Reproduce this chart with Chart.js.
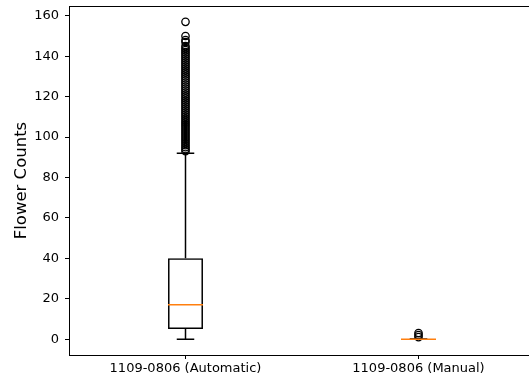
<!DOCTYPE html>
<html>
<head>
<meta charset="utf-8">
<script src="https://cdn.jsdelivr.net/npm/chart.js@4"></script>
<style>
  html, body { margin: 0; padding: 0; background: #fff; overflow: hidden; }
  #wrap { width: 536px; height: 383px; }
</style>
</head>
<body>
<div id="wrap"><canvas id="boxChart" width="536" height="383"></canvas></div>
<script>
// Box plot of flower counts, automatic vs manual, drawn with Chart.js

const categories = ["1109-0806 (Automatic)", "1109-0806 (Manual)"];
const whiskerLow = [0, 0];
const q1 = [5, 0];
const medians = [17, 0];
const q3 = [40, 0];
const whiskerHigh = [92, 0];
const outliersAuto = [93, 94, 95, 96, 97, 98, 99, 100, 101, 102, 103, 104, 105, 106, 107, 108, 109, 110,
    111, 112, 113, 114, 115, 116, 117, 118, 119, 120, 121, 122, 123, 124, 125, 126, 127, 128, 129, 130,
    131, 132, 133, 134, 135, 136, 137, 138, 139, 140, 141, 142, 143, 144, 145, 147, 148, 150, 157];
const outliersManual = [1, 2, 3];
const yTicks = [0, 20, 40, 60, 80, 100, 120, 140, 160];

const font = { family: "DejaVu Sans", size: 13 };

const outlierPoints = [outliersAuto, outliersManual]
    .flatMap((list, i) => list.map(v => ({ x: categories[i], y: v })));

const whiskerPoints = categories.flatMap((c, i) => [
    { x: c, y: q3[i] }, { x: c, y: whiskerHigh[i] }, { x: c, y: null },
    { x: c, y: q1[i] }, { x: c, y: whiskerLow[i] }, { x: c, y: null }
]);

const capPoints = categories.flatMap((c, i) => [
    { x: c, y: whiskerLow[i] }, { x: c, y: whiskerHigh[i] }
]);

// top / left / right / bottom spines like matplotlib
const frame = {
    id: "frame",
    afterDraw(chart) {
        const { ctx, chartArea: a } = chart;
        ctx.save();
        ctx.strokeStyle = "#000";
        ctx.lineWidth = 1;
        ctx.strokeRect(Math.round(a.left) + 0.5, Math.round(a.top) + 0.5,
            Math.round(a.right - a.left), Math.round(a.bottom - a.top));
        ctx.restore();
    }
};

new Chart(document.getElementById("boxChart"), {
    type: "bar",
    data: {
        labels: categories,
        datasets: [
            {
                type: "line",
                label: "median",
                data: categories.map((c, i) => ({ x: c, y: medians[i] })),
                showLine: false,
                pointStyle: "line",
                pointRadius: 17.5,
                borderColor: "#ff7f0e",
                borderWidth: 1.5,
                order: 0
            },
            {
                type: "line",
                label: "outliers",
                data: outlierPoints,
                showLine: false,
                pointStyle: "circle",
                pointRadius: 3.7,
                borderColor: "#000",
                backgroundColor: "rgba(0,0,0,0)",
                borderWidth: 1.3,
                order: 1
            },
            {
                type: "line",
                label: "caps",
                data: capPoints,
                showLine: false,
                pointStyle: "line",
                pointRadius: 8.75,
                borderColor: "#000",
                borderWidth: 1.5,
                order: 2
            },
            {
                type: "line",
                label: "whiskers",
                data: whiskerPoints,
                spanGaps: false,
                pointRadius: 0,
                borderColor: "#000",
                borderWidth: 1.5,
                order: 3
            },
            {
                label: "box",
                data: categories.map((c, i) => [q1[i], q3[i]]),
                backgroundColor: "rgba(255,255,255,0)",
                borderColor: "#000",
                borderWidth: 1.5,
                borderSkipped: false,
                barPercentage: 0.15,
                categoryPercentage: 1,
                order: 4
            }
        ]
    },
    options: {
        responsive: false,
        animation: false,
        devicePixelRatio: 1,
        layout: { autoPadding: false, padding: { top: 6, right: 1, left: 0, bottom: 0 } },
        plugins: { legend: { display: false }, tooltip: { enabled: false } },
        scales: {
            x: {
                offset: true,
                grid: { display: true, offset: false, drawOnChartArea: false, drawTicks: true, tickLength: 4, color: "#000" },
                border: { display: false },
                ticks: { color: "#000", font, padding: 2, maxRotation: 0 },
                afterFit: s => {
                    s.height = 28;
                    s.paddingLeft = 0;
                    s.paddingRight = 0;
                }
            },
            y: {
                min: -7.85,
                max: 164.85,
                grid: { display: true, drawOnChartArea: false, drawTicks: true, tickLength: 4, color: "#000" },
                border: { display: false },
                ticks: { color: "#000", font, padding: 6 },
                afterBuildTicks: s => { s.ticks = yTicks.map(v => ({ value: v })); },
                title: {
                    display: true,
                    text: "Flower Counts",
                    color: "#000",
                    font: { family: "DejaVu Sans", size: 16.5 },
                    padding: { top: 12, bottom: 0 }
                },
                afterFit: s => {
                    s.width = 69;
                    s.paddingTop = 0;
                    s.paddingBottom = 0;
                }
            }
        }
    },
    plugins: [frame]
});
</script>
</body>
</html>
